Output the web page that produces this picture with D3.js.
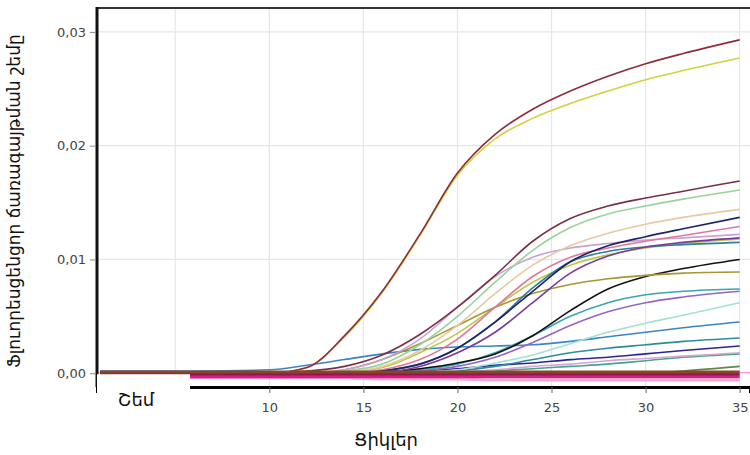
<!DOCTYPE html>
<html>
<head>
<meta charset="utf-8">
<script src="https://cdn.jsdelivr.net/npm/d3@7"></script>
<style>
  body { margin: 0; background: #fff; }
  svg { display: block; }
</style>
</head>
<body>
<div class="js-chart"></div>
<script>
'use strict';

const cycles = [1, 6, 10, 12, 14, 16, 18, 20, 22, 24, 26, 28, 30, 32, 35];

const xTicks = [10, 15, 20, 25, 30, 35];
const xGrid = [5, 10, 15, 20, 25, 30, 35];
const yTicks = [0, 0.01, 0.02, 0.03];
const yTickLabels = ['0,00', '0,01', '0,02', '0,03'];

const xTitle = 'Ցիկլեր';
const yTitle = 'Ֆլուորեսցենցոր ճառագայթման շեմը';
const thresholdLabel = 'Շեմ';

// fluorescence per sample
const redCurve = [0, 0, 0, 0.0005, 0.0033, 0.0072, 0.0122, 0.0176, 0.0210, 0.0232, 0.0248, 0.0261, 0.0272, 0.0281, 0.0293];
const yellowCurve = [0, 0, 0, 0.0005, 0.0032, 0.0071, 0.0121, 0.0174, 0.0206, 0.0224, 0.0237, 0.0248, 0.0258, 0.0266, 0.0277];
const maroonCurve = [0, 0, 0.0001, 0.0002, 0.0006, 0.0016, 0.0034, 0.0058, 0.0086, 0.0116, 0.0136, 0.0147, 0.0154, 0.0160, 0.0169];
const lightGreenCurve = [0, 0, 0, 0, 0.0002, 0.0008, 0.0025, 0.0050, 0.0080, 0.0108, 0.0128, 0.0140, 0.0147, 0.0153, 0.0161];
const tanCurve = [0, 0, 0, 0, 0.0001, 0.0006, 0.0020, 0.0042, 0.0070, 0.0095, 0.0112, 0.0123, 0.0131, 0.0137, 0.0144];
const navyCurve = [0, 0, 0, 0, 0, 0.0002, 0.0008, 0.0022, 0.0045, 0.0072, 0.0098, 0.0112, 0.0120, 0.0127, 0.0137];
const pinkCurve = [0, 0, 0, 0, 0, 0.0003, 0.0012, 0.0030, 0.0058, 0.0085, 0.0102, 0.0110, 0.0116, 0.0121, 0.0129];
const lilacCurve = [0, 0, 0, 0, 0.0003, 0.0012, 0.0030, 0.0058, 0.0085, 0.0102, 0.0110, 0.0114, 0.0117, 0.0119, 0.0122];
const purpleCurve = [0, 0, 0, 0, 0, 0.0001, 0.0006, 0.0018, 0.0036, 0.0062, 0.0088, 0.0103, 0.0111, 0.0115, 0.0119];
const tealCurve = [0, 0, 0, 0, 0, 0.0002, 0.0008, 0.0022, 0.0045, 0.0075, 0.0098, 0.0107, 0.0111, 0.0113, 0.0115];
const oliveCurve = [0, 0, 0, 0, 0.0003, 0.0012, 0.0026, 0.0042, 0.0058, 0.0070, 0.0078, 0.0083, 0.0086, 0.0088, 0.0089];
const limeCurve = [0, 0, 0, 0, 0.0001, 0.0005, 0.0018, 0.0035, 0.0058, 0.0080, 0.0095, 0.0104, 0.0110, 0.0114, 0.0118];
const blackCurve = [0, 0, 0, 0, 0, 0.0001, 0.0004, 0.0009, 0.0017, 0.0033, 0.0055, 0.0074, 0.0085, 0.0092, 0.0100];
const cyanCurve = [0, 0, 0, 0, 0, 0, 0.0003, 0.0008, 0.0018, 0.0033, 0.0050, 0.0062, 0.0069, 0.0072, 0.0074];
const violetCurve = [0, 0, 0, 0, 0, 0, 0.0002, 0.0006, 0.0014, 0.0027, 0.0042, 0.0054, 0.0062, 0.0067, 0.0072];
const mintCurve = [0, 0, 0, 0, 0, 0, 0.0001, 0.0003, 0.0009, 0.0016, 0.0026, 0.0036, 0.0044, 0.0051, 0.0062];
const steelCurve = [0.0002, 0.0002, 0.0003, 0.0007, 0.0012, 0.0017, 0.0021, 0.0023, 0.0024, 0.0025, 0.0028, 0.0032, 0.0036, 0.0040, 0.0045];
const teal2Curve = [0, 0, 0, 0, 0, 0, 0, 0.0002, 0.0006, 0.0012, 0.0018, 0.0022, 0.0025, 0.0028, 0.0031];
const navy2Curve = [0, 0, 0, 0, 0, 0, 0.0002, 0.0004, 0.0007, 0.0009, 0.0012, 0.0014, 0.0017, 0.0020, 0.0024];
const pinkLilacCurve = [0, 0, 0, 0, 0, 0, 0, 0.0001, 0.0003, 0.0006, 0.0008, 0.0011, 0.0013, 0.0015, 0.0018];
const tealGreenCurve = [0, 0, 0, 0, 0, 0, 0, 0, 0.0002, 0.0004, 0.0006, 0.0008, 0.0011, 0.0014, 0.0017];
const greenCurve = [0, 0, 0, 0, 0, 0, 0, 0, 0, 0, 0, 0, 0, 0.0002, 0.0006];

// flat samples sitting on / under the baseline
const brownBase = [0.0001, 0.0001, 0.0001, 0.0001, 0.0001, 0.0001, 0.0001, 0.0001, 0.0001, 0.0001, 0.0001, 0.0001, 0.0001, 0.0001, 0.0001];
const maroonBase = [-0.0001, -0.0001, -0.0001, -0.0001, -0.0001, -0.0001, -0.0001, -0.0001, -0.0001, -0.0001, -0.0001, -0.0001, -0.0001, -0.0001, -0.0001];
const magentaBase = [-0.0003, -0.0003, -0.0003, -0.0003, -0.0003, -0.0003, -0.0003, -0.0003, -0.0003, -0.0003, -0.0003, -0.0003, -0.0003, -0.0003, -0.0003];
const pinkBase = [-0.0004, -0.0004, -0.0004, -0.0004, -0.0004, -0.0005, -0.0005, -0.0005, -0.0006, -0.0006, -0.0006, -0.0006, -0.0006, -0.0006, -0.0006];

const curves = [
    { values: greenCurve, color: '#5a8a44' },
    { values: tealGreenCurve, color: '#44a48c' },
    { values: pinkLilacCurve, color: '#d8a4d8' },
    { values: navy2Curve, color: '#2c2494' },
    { values: teal2Curve, color: '#2c8c9c' },
    { values: steelCurve, color: '#3c84c4' },
    { values: mintCurve, color: '#a4e0d4' },
    { values: violetCurve, color: '#9466c4' },
    { values: cyanCurve, color: '#3aa4b4' },
    { values: blackCurve, color: '#111111' },
    { values: limeCurve, color: '#bcc84c' },
    { values: oliveCurve, color: '#a89632' },
    { values: tealCurve, color: '#2e7e9c' },
    { values: purpleCurve, color: '#7a3c9c' },
    { values: lilacCurve, color: '#c8a2d4' },
    { values: pinkCurve, color: '#e0789c' },
    { values: navyCurve, color: '#1e2466' },
    { values: tanCurve, color: '#e6caa0' },
    { values: lightGreenCurve, color: '#98d498' },
    { values: maroonCurve, color: '#7a3044' },
    { values: yellowCurve, color: '#d4d040' },
    { values: redCurve, color: '#8e2c3c' }
];

const baselines = [
    { values: pinkBase, color: '#f0a8cc' },
    { values: magentaBase, color: '#d41c8c' },
    { values: maroonBase, color: '#8c1a44' },
    { values: brownBase, color: '#8a4428' }
];

function drawChart() {

    const svgWidth = 750;
    const svgHeight = 455;
    const plotLeft = 97;
    const plotTop = 8;
    const plotRight = 750;
    const plotBottom = 387;

    const xScale = d3.scaleLinear()
        .domain([0.84, 35.55])
        .range([plotLeft, plotRight]);

    const yScale = d3.scaleLinear()
        .domain([-0.00121, 0.0321])
        .range([plotBottom, plotTop]);

    const svg = d3.select('.js-chart')
        .append('svg')
        .attr('width', svgWidth)
        .attr('height', svgHeight);

    // grid
    svg.append('g')
        .selectAll('line')
        .data(xGrid)
        .enter()
        .append('line')
        .attr('x1', d => xScale(d))
        .attr('x2', d => xScale(d))
        .attr('y1', plotTop)
        .attr('y2', plotBottom)
        .attr('stroke', '#e6e6e6')
        .attr('stroke-width', 1.2);

    svg.append('g')
        .selectAll('line')
        .data(yTicks.slice(1))
        .enter()
        .append('line')
        .attr('x1', plotLeft)
        .attr('x2', plotRight)
        .attr('y1', d => yScale(d))
        .attr('y2', d => yScale(d))
        .attr('stroke', '#e6e6e6')
        .attr('stroke-width', 1.2);

    // threshold line
    svg.append('line')
        .attr('x1', plotLeft)
        .attr('x2', plotRight)
        .attr('y1', yScale(0.00005))
        .attr('y2', yScale(0.00005))
        .attr('stroke', '#ff7ce0')
        .attr('stroke-width', 1);

    const line = d3.line()
        .x((d, i) => xScale(cycles[i]))
        .y(d => yScale(d))
        .curve(d3.curveMonotoneX);

    svg.append('g')
        .selectAll('path')
        .data(curves)
        .enter()
        .append('path')
        .attr('d', d => line(d.values))
        .attr('fill', 'none')
        .attr('stroke', d => d.color)
        .attr('stroke-width', 1.6);

    svg.append('g')
        .selectAll('path')
        .data(baselines)
        .enter()
        .append('path')
        .attr('d', d => line(d.values))
        .attr('fill', 'none')
        .attr('stroke', d => d.color)
        .attr('stroke-width', 3);

    // frame
    svg.append('line')
        .attr('x1', plotLeft)
        .attr('x2', plotRight)
        .attr('y1', plotTop)
        .attr('y2', plotTop)
        .attr('stroke', '#333')
        .attr('stroke-width', 2);

    svg.append('line')
        .attr('x1', plotLeft)
        .attr('x2', plotLeft)
        .attr('y1', plotTop - 1)
        .attr('y2', plotBottom)
        .attr('stroke', '#111')
        .attr('stroke-width', 3);

    // x axis
    const xAxis = d3.axisBottom(xScale)
        .tickValues(xTicks)
        .tickSize(6)
        .tickPadding(10)
        .tickFormat(d3.format('d'));

    const gx = svg.append('g')
        .attr('transform', `translate(0,${plotBottom})`)
        .call(xAxis);
    gx.select('.domain')
        .attr('stroke', '#000')
        .attr('stroke-width', 3);
    gx.selectAll('.tick line').attr('stroke', '#666');
    gx.selectAll('.tick text')
        .attr('font-family', 'DejaVu Sans, sans-serif')
        .attr('font-size', '13px')
        .attr('fill', '#444');

    // y axis
    const yAxis = d3.axisLeft(yScale)
        .tickValues(yTicks)
        .tickSize(6)
        .tickPadding(4)
        .tickFormat((d, i) => yTickLabels[i]);

    const gy = svg.append('g')
        .attr('transform', `translate(${plotLeft - 1},0)`)
        .call(yAxis);
    gy.select('.domain').remove();
    gy.selectAll('.tick line').attr('stroke', '#888');
    gy.selectAll('.tick text')
        .attr('font-family', 'DejaVu Sans, sans-serif')
        .attr('font-size', '13px')
        .attr('fill', '#444');

    // threshold label box
    svg.append('rect')
        .attr('x', plotLeft)
        .attr('y', yScale(0) + 1)
        .attr('width', 93)
        .attr('height', 60)
        .attr('fill', '#fff');

    svg.append('text')
        .text(thresholdLabel)
        .attr('x', 136)
        .attr('y', 406)
        .attr('text-anchor', 'middle')
        .attr('font-family', 'DejaVu Sans, sans-serif')
        .attr('font-size', '18px')
        .attr('fill', '#111');

    // titles
    svg.append('text')
        .text(xTitle)
        .attr('x', 386)
        .attr('y', 446)
        .attr('text-anchor', 'middle')
        .attr('font-family', 'DejaVu Sans, sans-serif')
        .attr('font-size', '18px')
        .attr('fill', '#111');

    svg.append('text')
        .text(yTitle)
        .attr('transform', 'translate(20,201) rotate(-90)')
        .attr('text-anchor', 'middle')
        .attr('font-family', 'DejaVu Sans, sans-serif')
        .attr('font-size', '17px')
        .attr('fill', '#111');
}

drawChart();
</script>
</body>
</html>
